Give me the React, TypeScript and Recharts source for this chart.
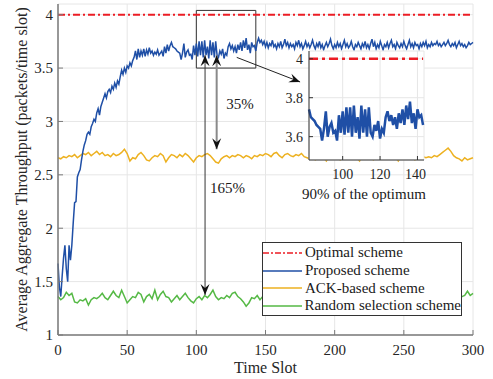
import React from 'react';
import {
  LineChart,
  Line,
  XAxis,
  YAxis,
  CartesianGrid,
  ReferenceLine,
  ReferenceArea,
  ReferenceDot,
  Legend,
} from 'recharts';

// time slots 0..300 (one value per slot)
const PROPOSED = [
  1.67, 1.45, 1.36, 1.55, 1.72, 1.84, 1.62, 1.5, 1.84, 1.7,
  1.84, 2.05, 2.24, 2.25, 2.48, 2.52, 2.55, 2.64, 2.72, 2.78,
  2.82, 2.88, 2.9, 2.88, 2.95, 2.98, 3.02, 3.0, 3.08, 3.12,
  3.06, 3.14, 3.18, 3.22, 3.26, 3.22, 3.28, 3.3, 3.27, 3.33,
  3.3, 3.36, 3.32, 3.38, 3.35, 3.42, 3.48, 3.44, 3.5, 3.46,
  3.52, 3.5, 3.55, 3.52, 3.57, 3.6, 3.66, 3.58, 3.68, 3.6,
  3.66, 3.62, 3.68, 3.61, 3.67, 3.63, 3.69, 3.64, 3.66, 3.62,
  3.65, 3.63, 3.67, 3.62, 3.64, 3.66, 3.61, 3.7, 3.64, 3.72,
  3.66, 3.71, 3.74, 3.7, 3.69, 3.68, 3.66, 3.65, 3.64, 3.58,
  3.64, 3.73, 3.6, 3.65, 3.67, 3.62, 3.63, 3.58, 3.71, 3.62,
  3.73, 3.61, 3.75, 3.62, 3.75, 3.6, 3.76, 3.62, 3.7, 3.59,
  3.76, 3.62, 3.74, 3.6, 3.75, 3.62, 3.6, 3.66, 3.63, 3.68,
  3.59, 3.64, 3.62, 3.7, 3.73, 3.68, 3.71, 3.66, 3.7, 3.64,
  3.72, 3.67, 3.74, 3.66, 3.76, 3.69, 3.78, 3.67, 3.72, 3.64,
  3.74, 3.7, 3.71, 3.66, 3.74, 3.78, 3.74, 3.76, 3.72, 3.75,
  3.7, 3.74, 3.69, 3.73, 3.71, 3.76, 3.7, 3.72, 3.68, 3.73,
  3.7, 3.75, 3.69, 3.72, 3.77, 3.71, 3.74, 3.69, 3.73, 3.7,
  3.72, 3.68, 3.74, 3.71, 3.76, 3.7, 3.73, 3.68, 3.71, 3.75,
  3.7, 3.73, 3.69, 3.72, 3.76, 3.71, 3.68, 3.73, 3.7, 3.75,
  3.69, 3.72, 3.67, 3.71, 3.74, 3.7, 3.73, 3.77, 3.71, 3.68,
  3.72, 3.69, 3.74, 3.7, 3.73, 3.68, 3.72, 3.76, 3.7, 3.73,
  3.69, 3.71, 3.75, 3.7, 3.67, 3.72, 3.7, 3.74, 3.71, 3.68,
  3.73, 3.7, 3.75, 3.69, 3.72, 3.68, 3.73, 3.77, 3.7, 3.74,
  3.68, 3.72, 3.69, 3.75, 3.71, 3.67, 3.72, 3.7, 3.74, 3.69,
  3.73, 3.76, 3.7, 3.72, 3.68, 3.74, 3.71, 3.69, 3.73, 3.7,
  3.75, 3.71, 3.68, 3.72, 3.76, 3.7, 3.73, 3.69, 3.74, 3.71,
  3.72, 3.68, 3.73, 3.7, 3.74, 3.71, 3.75, 3.69, 3.72, 3.7,
  3.74, 3.71, 3.73, 3.72, 3.75, 3.71, 3.73, 3.7, 3.72, 3.74,
  3.71, 3.73, 3.76, 3.72, 3.7, 3.73, 3.71, 3.74, 3.69, 3.72,
  3.75, 3.71, 3.73, 3.7, 3.72, 3.69, 3.71, 3.74, 3.72, 3.73,
  3.74,
];

// every second slot 0, 2, ..., 300
const ACK_BASED = [
  2.66, 2.65, 2.67, 2.66, 2.68, 2.67, 2.69, 2.66, 2.68, 2.7,
  2.69, 2.71, 2.68, 2.7, 2.72, 2.69, 2.71, 2.68, 2.69, 2.67,
  2.7, 2.68, 2.69, 2.71, 2.74, 2.7, 2.63, 2.66, 2.65, 2.69,
  2.71, 2.68, 2.64, 2.63, 2.66, 2.68, 2.67, 2.7, 2.68, 2.62,
  2.66, 2.69, 2.68, 2.66, 2.69, 2.67, 2.7, 2.68, 2.65, 2.62,
  2.66, 2.68, 2.67, 2.69, 2.7, 2.68, 2.65, 2.62, 2.61, 2.65,
  2.67, 2.68, 2.66, 2.68, 2.67, 2.69, 2.68, 2.66, 2.68, 2.67,
  2.65, 2.68, 2.67, 2.69, 2.68, 2.7, 2.69, 2.67, 2.7, 2.71,
  2.68, 2.66, 2.69, 2.7, 2.68, 2.67, 2.69, 2.68, 2.7, 2.67,
  2.66, 2.65, 2.67, 2.64, 2.66, 2.68, 2.66, 2.63, 2.67, 2.69,
  2.68, 2.66, 2.64, 2.67, 2.69, 2.67, 2.65, 2.68, 2.66, 2.63,
  2.67, 2.69, 2.68, 2.66, 2.64, 2.67, 2.68, 2.66, 2.69, 2.67,
  2.65, 2.68, 2.66, 2.63, 2.67, 2.68, 2.66, 2.69, 2.67, 2.64,
  2.66, 2.68, 2.67, 2.66, 2.67, 2.66, 2.68, 2.67, 2.69, 2.71,
  2.73, 2.75, 2.72, 2.68, 2.66, 2.65, 2.63, 2.66, 2.64, 2.65,
  2.66,
];

const RANDOM_SEL = [
  1.36, 1.33, 1.35, 1.4, 1.37, 1.39, 1.31, 1.3, 1.33, 1.32,
  1.34, 1.28, 1.33, 1.35, 1.34, 1.36, 1.39, 1.35, 1.33, 1.37,
  1.41, 1.37, 1.35, 1.42, 1.36, 1.3, 1.33, 1.36, 1.35, 1.4,
  1.38, 1.31, 1.36, 1.38, 1.34, 1.42, 1.33, 1.38, 1.41, 1.36,
  1.35, 1.31, 1.34, 1.37, 1.33, 1.36, 1.39, 1.35, 1.32, 1.3,
  1.34, 1.36, 1.33, 1.37, 1.35, 1.38, 1.42, 1.36, 1.33, 1.35,
  1.34, 1.37, 1.35, 1.39, 1.4, 1.36, 1.34, 1.31, 1.27, 1.3,
  1.35, 1.34, 1.37, 1.33, 1.36, 1.34, 1.37, 1.33, 1.35, 1.38,
  1.34, 1.31, 1.36, 1.39, 1.35, 1.33, 1.36, 1.34, 1.38, 1.35,
  1.32, 1.36, 1.4, 1.34, 1.33, 1.37, 1.35, 1.31, 1.34, 1.38,
  1.36, 1.33, 1.35, 1.39, 1.34, 1.32, 1.36, 1.35, 1.38, 1.33,
  1.34, 1.37, 1.35, 1.31, 1.36, 1.39, 1.34, 1.33, 1.36, 1.38,
  1.35, 1.32, 1.34, 1.37, 1.36, 1.33, 1.35, 1.39, 1.34, 1.31,
  1.36, 1.35, 1.38, 1.34, 1.33, 1.36, 1.35, 1.37, 1.33, 1.34,
  1.38, 1.36, 1.32, 1.35, 1.37, 1.34, 1.36, 1.37, 1.41, 1.37,
  1.39,
];

const OPTIMAL = 4;

const X_TICKS = [0, 50, 100, 150, 200, 250, 300];
const Y_TICKS = [1, 1.5, 2, 2.5, 3, 3.5, 4];
const INSET_X_TICKS = [100, 120, 140];
const INSET_Y_TICKS = [3.6, 3.8, 4];
const INSET_RANGE = [82, 143.5];

const SERIES = [
  { key: 'opt', name: 'Optimal scheme', color: '#ec1c24', dash: '6 2 2 2' },
  { key: 'prop', name: 'Proposed scheme', color: '#1f4fa6', dash: undefined },
  { key: 'ack', name: 'ACK-based scheme', color: '#edb120', dash: undefined },
  { key: 'rand', name: 'Random selection scheme', color: '#55b945', dash: undefined },
];

const rows = PROPOSED.map((v, t) => ({
  t,
  prop: v,
  opt: OPTIMAL,
  ack: t % 2 === 0 ? ACK_BASED[t / 2] : undefined,
  rand: t % 2 === 0 ? RANDOM_SEL[t / 2] : undefined,
}));
const insetRows = rows.filter((r) => r.t >= INSET_RANGE[0] && r.t <= INSET_RANGE[1]);

const FONT = '"Liberation Serif", "Times New Roman", serif';
const AXIS = '#7a7a7a';
const TXT = '#262626';

// line with arrowheads, drawn from the reference line's end points
const arrowShape = (heads: string, color: string, width: number) => (p: any) => {
  const { x1, y1, x2, y2 } = p;
  const head = (tx: number, ty: number, fx: number, fy: number) => {
    const len = Math.hypot(tx - fx, ty - fy) || 1;
    const ux = (tx - fx) / len;
    const uy = (ty - fy) / len;
    const L = 11, W = 4.5, N = 4;
    const pts = [
      [tx, ty],
      [tx - ux * L - uy * W, ty - uy * L + ux * W],
      [tx - ux * (L - N), ty - uy * (L - N)],
      [tx - ux * L + uy * W, ty - uy * L - ux * W],
    ];
    return <polygon points={pts.map((q) => q.join(',')).join(' ')} fill="#111" />;
  };
  return (
    <g>
      <line x1={x1} y1={y1} x2={x2} y2={y2} stroke={color} strokeWidth={width} />
      {(heads === 'start' || heads === 'both') && head(x1, y1, x2, y2)}
      {(heads === 'end' || heads === 'both') && head(x2, y2, x1, y1)}
    </g>
  );
};

const textLabel = (value: string) => ({
  value,
  position: 'center' as const,
  fontSize: 15,
  fontFamily: FONT,
  fill: '#1a1a1a',
});

const renderLegend = () => (
  <div
    style={{
      width: 200,
      height: 74,
      boxSizing: 'border-box',
      border: '1px solid #333',
      background: '#fff',
      paddingTop: 1,
      fontFamily: FONT,
      fontSize: 15,
      color: '#1a1a1a',
    }}
  >
    {SERIES.map((s) => (
      <div key={s.key} style={{ display: 'flex', alignItems: 'center', height: 17.7 }}>
        <svg width={42} height={10} style={{ display: 'block' }}>
          <line x1={0} x2={39} y1={5} y2={5} stroke={s.color} strokeWidth={1.5} strokeDasharray={s.dash} />
        </svg>
        <span style={{ lineHeight: '17px', whiteSpace: 'nowrap' }}>{s.name}</span>
      </div>
    ))}
  </div>
);

const yLabel = (props: any) => {
  const vb = props.viewBox;
  const x = vb.x + 27;
  const y = vb.y + vb.height / 2;
  return (
    <text
      x={x}
      y={y}
      transform={`rotate(-90 ${x} ${y})`}
      textAnchor="middle"
      fontSize={16}
      fontFamily={FONT}
      fill={TXT}
    >
      Average Aggregate Throughput (packets/time slot)
    </text>
  );
};

export default function App() {
  const tickStyle = { fontSize: 15, fill: TXT, fontFamily: FONT };
  const insetTick = { fontSize: 14, fill: TXT, fontFamily: FONT };
  return (
    <div style={{ position: 'absolute', left: 0, top: 0, width: 493, height: 379, background: '#fff', fontFamily: FONT }}>
      <LineChart width={493} height={379} data={rows} margin={{ top: 4, right: 20, left: 0, bottom: 0 }}>
        <CartesianGrid stroke="#e6e6e6" />
        <XAxis
          dataKey="t"
          type="number"
          domain={[0, 300]}
          ticks={X_TICKS}
          height={44}
          tick={tickStyle}
          tickSize={-5}
          tickMargin={14}
          axisLine={{ stroke: AXIS, strokeWidth: 1.5 }}
          tickLine={{ stroke: AXIS }}
          label={{ value: 'Time Slot', position: 'insideBottom', offset: 6, fontSize: 16, fontFamily: FONT, fill: TXT }}
        />
        <XAxis
          xAxisId="top"
          orientation="top"
          type="number"
          domain={[0, 300]}
          ticks={X_TICKS}
          height={0}
          tickFormatter={() => ''}
          tickSize={-5}
          axisLine={{ stroke: AXIS, strokeWidth: 1 }}
          tickLine={{ stroke: AXIS }}
        />
        <YAxis
          type="number"
          domain={[1, 4.1]}
          ticks={Y_TICKS}
          width={58}
          tick={tickStyle}
          tickSize={-5}
          tickMargin={10}
          axisLine={{ stroke: AXIS, strokeWidth: 1.5 }}
          tickLine={{ stroke: AXIS }}
          label={{ content: yLabel }}
        />
        <YAxis
          yAxisId="right"
          orientation="right"
          type="number"
          domain={[1, 4.1]}
          ticks={Y_TICKS}
          width={0}
          tickFormatter={() => ''}
          tickSize={-5}
          axisLine={{ stroke: AXIS, strokeWidth: 1 }}
          tickLine={{ stroke: AXIS }}
        />
        <Line dataKey="opt" stroke={SERIES[0].color} strokeWidth={2} strokeDasharray="7 3 2 3" dot={false} isAnimationActive={false} />
        <Line dataKey="ack" stroke={SERIES[2].color} strokeWidth={1.5} dot={false} connectNulls isAnimationActive={false} />
        <Line dataKey="rand" stroke={SERIES[3].color} strokeWidth={1.5} dot={false} connectNulls isAnimationActive={false} />
        <Line dataKey="prop" stroke={SERIES[1].color} strokeWidth={1.5} dot={false} isAnimationActive={false} />

        <ReferenceArea x1={100} x2={143} y1={3.5} y2={4.04} fill="none" stroke="#333" strokeWidth={1} />
        <ReferenceLine segment={[{ x: 106.3, y: 3.62 }, { x: 106.3, y: 1.375 }]} shape={arrowShape('both', '#333', 1)} />
        <ReferenceLine segment={[{ x: 114.7, y: 3.62 }, { x: 114.7, y: 2.74 }]} shape={arrowShape('both', '#8a8a8a', 2)} />
        <ReferenceLine segment={[{ x: 129.2, y: 3.6 }, { x: 175, y: 3.37 }]} shape={arrowShape('end', '#222', 1)} />
        <ReferenceDot x={131.6} y={3.165} r={0} label={textLabel('35%')} />
        <ReferenceDot x={122.5} y={2.38} r={0} label={textLabel('165%')} />
        <ReferenceDot x={221.2} y={2.32} r={0} label={textLabel('90% of the optimum')} />

        <Legend
          layout="vertical"
          align="center"
          verticalAlign="middle"
          content={renderLegend}
          wrapperStyle={{ left: 262, top: 242, width: 200, height: 74 }}
        />
      </LineChart>

      <div style={{ position: 'absolute', left: 280, top: 50, width: 146, height: 134 }}>
        <LineChart width={146} height={134} data={insetRows} margin={{ top: 1, right: 2, left: 0, bottom: 0 }}>
          <CartesianGrid stroke="#e6e6e6" fill="#fff" />
          <XAxis
            dataKey="t"
            type="number"
            domain={INSET_RANGE}
            ticks={INSET_X_TICKS}
            height={24}
            tick={insetTick}
            tickSize={-4}
            tickMargin={13}
            axisLine={{ stroke: '#333' }}
            tickLine={{ stroke: '#333' }}
          />
          <XAxis
            xAxisId="top"
            orientation="top"
            type="number"
            domain={INSET_RANGE}
            ticks={INSET_X_TICKS}
            height={0}
            tickFormatter={() => ''}
            tickSize={-4}
            axisLine={{ stroke: '#333' }}
            tickLine={{ stroke: '#333' }}
          />
          <YAxis
            type="number"
            domain={[3.48, 4.04]}
            ticks={INSET_Y_TICKS}
            width={29}
            tick={insetTick}
            tickSize={-4}
            tickMargin={10}
            axisLine={{ stroke: '#333' }}
            tickLine={{ stroke: '#333' }}
          />
          <YAxis
            yAxisId="right"
            orientation="right"
            type="number"
            domain={[3.48, 4.04]}
            ticks={INSET_Y_TICKS}
            width={0}
            tickFormatter={() => ''}
            tickSize={-4}
            axisLine={{ stroke: '#333' }}
            tickLine={{ stroke: '#333' }}
          />
          <Line dataKey="opt" stroke={SERIES[0].color} strokeWidth={2.5} strokeDasharray="9 4 3 4" dot={false} isAnimationActive={false} />
          <Line dataKey="prop" stroke={SERIES[1].color} strokeWidth={2.5} dot={false} isAnimationActive={false} />
        </LineChart>
      </div>
    </div>
  );
}
